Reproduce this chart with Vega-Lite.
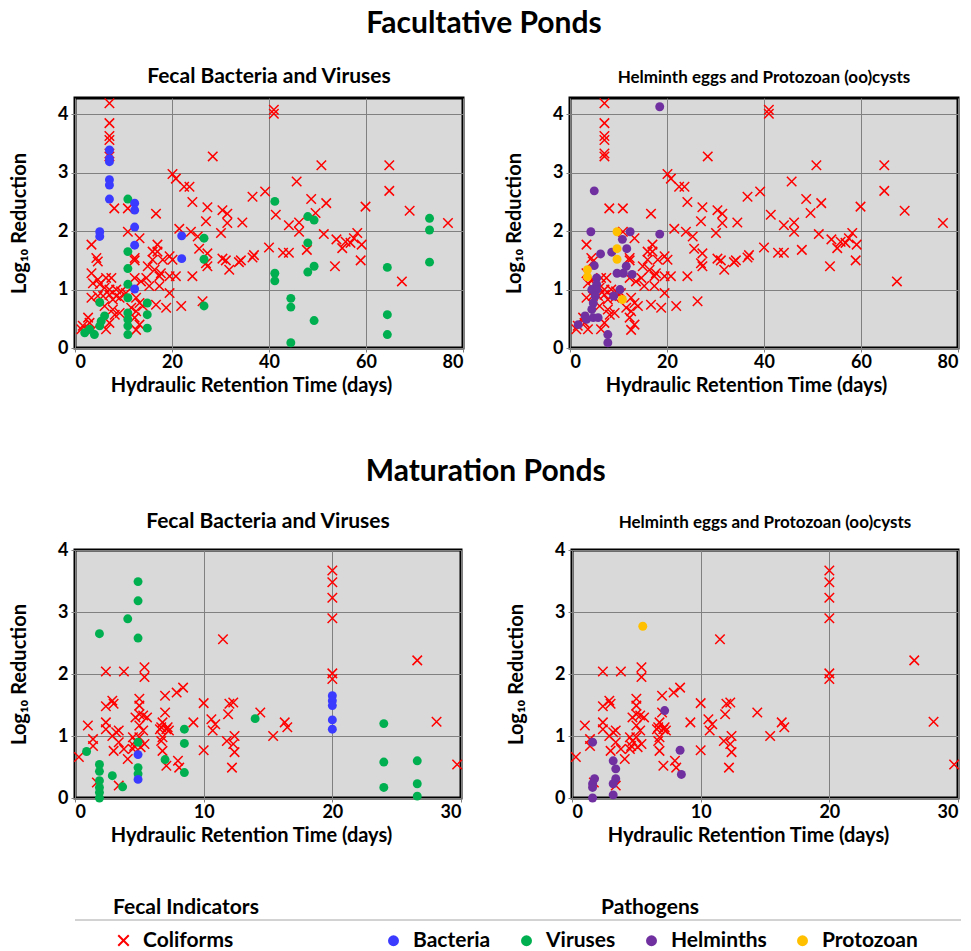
{
  "$schema": "https://vega.github.io/schema/vega-lite/v6.json",
  "background": "white",
  "padding": {"left": 8, "top": 9, "right": 5, "bottom": 0},
  "config": {
    "font": "Lato",
    "view": {"stroke": "black", "strokeWidth": 3, "fill": "#d9d9d9"},
    "axis": {"labelFontWeight": "bold", "labelFontSize": 18, "labelColor": "black", "titleFontSize": 20, "titleFontWeight": "bold", "titleColor": "black", "gridColor": "#808080", "gridWidth": 1, "domain": false, "tickColor": "#808080", "tickSize": 4, "labelPadding": 1},
    "axisY": {"titlePadding": 28, "labelPadding": 3},
    "axisX": {"titlePadding": 4, "titleX": 176},
    "title": {"fontWeight": "bold", "color": "black"},
    "legend": {"labelFontSize": 21, "labelFontWeight": "bold", "labelColor": "black", "titleFontSize": 21, "titleFontWeight": "bold", "titleColor": "black", "padding": 0, "titlePadding": 12}
  },
  "datasets": {
    "facColi": [
      {"t":7.1,"r":4.19},{"t":7.1,"r":3.85},{"t":7.1,"r":3.63},{"t":7.1,"r":3.56},{"t":7.1,"r":3.33},{"t":7.1,"r":3.28},
      {"t":28.4,"r":3.28},{"t":20.1,"r":2.98},{"t":20.8,"r":2.9},{"t":22.5,"r":2.76},{"t":23.6,"r":2.76},
      {"t":41,"r":4.08},{"t":41,"r":4.01},{"t":36.6,"r":2.59},{"t":39.2,"r":2.68},{"t":45.7,"r":2.85},{"t":41.4,"r":2.28},
      {"t":24.2,"r":2.5},{"t":27.3,"r":2.41},{"t":27,"r":2.17},{"t":30.4,"r":2.36},{"t":31.4,"r":2.3},{"t":31.4,"r":2.14},{"t":34.5,"r":2.15},{"t":30.1,"r":1.97},{"t":44.1,"r":2.1},
      {"t":8.1,"r":2.39},{"t":10.9,"r":2.39},{"t":16.7,"r":2.3},{"t":21.5,"r":2.04},{"t":23.9,"r":1.99},{"t":25.3,"r":1.91},{"t":10.9,"r":1.99},{"t":13.3,"r":1.88},{"t":3.4,"r":1.77},
      {"t":25.6,"r":1.7},{"t":27.3,"r":1.62},{"t":40,"r":1.72},{"t":36.9,"r":1.59},{"t":36.6,"r":1.55},{"t":30.4,"r":1.53},{"t":31.1,"r":1.5},{"t":34.2,"r":1.5},{"t":33.8,"r":1.47},{"t":31.8,"r":1.34},
      {"t":42.9,"r":1.63},{"t":44.1,"r":1.63},{"t":27,"r":1.45},{"t":27.3,"r":1.4},{"t":24.2,"r":1.23},{"t":26.3,"r":0.8},{"t":21.9,"r":0.72},
      {"t":17,"r":1.77},{"t":17,"r":1.65},{"t":16,"r":1.65},{"t":12.3,"r":1.54},{"t":12.3,"r":1.5},{"t":4.4,"r":1.54},{"t":4.7,"r":1.48},{"t":16,"r":1.51},{"t":18.1,"r":1.51},{"t":19.5,"r":1.57},{"t":20.1,"r":1.51},
      {"t":15,"r":1.4},{"t":16.4,"r":1.34},{"t":17.7,"r":1.28},{"t":17.4,"r":1.23},{"t":20.8,"r":1.23},{"t":19.5,"r":1.23},{"t":14.7,"r":1.2},{"t":12.3,"r":1.2},
      {"t":3.4,"r":1.28},{"t":4.7,"r":1.17},{"t":6.4,"r":1.2},{"t":7.5,"r":1.2},{"t":3.7,"r":1.11},{"t":5.1,"r":1.09},{"t":6.1,"r":1.03},{"t":7.1,"r":1.0},{"t":8.5,"r":1.0},{"t":9.5,"r":0.97},{"t":10.5,"r":0.94},
      {"t":13.6,"r":1.14},{"t":15.3,"r":1.06},{"t":17.4,"r":1.06},{"t":19.5,"r":0.94},
      {"t":3.4,"r":0.86},{"t":4.7,"r":0.89},{"t":5.8,"r":0.89},{"t":7.1,"r":0.91},{"t":8.5,"r":0.89},{"t":7.8,"r":0.83},{"t":9.2,"r":0.86},{"t":12.6,"r":0.86},{"t":13.3,"r":0.77},{"t":14,"r":0.72},{"t":16.7,"r":0.74},{"t":18.8,"r":0.69},{"t":11.6,"r":0.69},{"t":12.6,"r":0.63},
      {"t":6.1,"r":0.72},{"t":7.8,"r":0.66},{"t":8.2,"r":0.57},{"t":9.2,"r":0.6},{"t":12.3,"r":0.52},{"t":13.3,"r":0.4},{"t":12.6,"r":0.31},
      {"t":2.7,"r":0.52},{"t":1.6,"r":0.38},{"t":1.3,"r":0.32},{"t":3,"r":0.43},{"t":3.7,"r":0.32},{"t":7.1,"r":0.43},{"t":6.4,"r":0.32},
      {"t":50.8,"r":3.13},{"t":64.8,"r":3.13},{"t":64.8,"r":2.69},{"t":48.7,"r":2.55},{"t":51.8,"r":2.48},{"t":59.9,"r":2.42},{"t":49.6,"r":2.31},{"t":69,"r":2.35},{"t":76.9,"r":2.14},
      {"t":46.2,"r":2.15},{"t":46.2,"r":1.99},{"t":51.3,"r":1.95},{"t":53.9,"r":1.86},{"t":55.1,"r":1.71},{"t":55.8,"r":1.82},{"t":56.8,"r":1.8},{"t":57.5,"r":1.88},{"t":58.2,"r":1.97},{"t":59.1,"r":1.77},{"t":58.9,"r":1.5},{"t":53.6,"r":1.4},{"t":47.8,"r":1.68},{"t":67.4,"r":1.14}
    ],
    "facPath1": [
      {"t":41.2,"r":2.51,"type":"Viruses"},{"t":48,"r":2.25,"type":"Viruses"},{"t":49.3,"r":2.19,"type":"Viruses"},{"t":48,"r":1.8,"type":"Viruses"},{"t":49.3,"r":1.4,"type":"Viruses"},{"t":48,"r":1.3,"type":"Viruses"},{"t":41.2,"r":1.28,"type":"Viruses"},{"t":41.2,"r":1.15,"type":"Viruses"},{"t":44.5,"r":0.85,"type":"Viruses"},{"t":44.5,"r":0.7,"type":"Viruses"},{"t":49.3,"r":0.47,"type":"Viruses"},{"t":44.5,"r":0.09,"type":"Viruses"},{"t":64.4,"r":1.38,"type":"Viruses"},{"t":64.4,"r":0.57,"type":"Viruses"},{"t":64.4,"r":0.23,"type":"Viruses"},{"t":73.1,"r":2.22,"type":"Viruses"},{"t":73.1,"r":2.02,"type":"Viruses"},{"t":73.1,"r":1.47,"type":"Viruses"},
      {"t":10.9,"r":2.55,"type":"Viruses"},{"t":10.9,"r":1.65,"type":"Viruses"},{"t":10.9,"r":1.36,"type":"Viruses"},{"t":10.9,"r":1.09,"type":"Viruses"},{"t":10.9,"r":0.86,"type":"Viruses"},{"t":10.9,"r":0.6,"type":"Viruses"},{"t":10.9,"r":0.49,"type":"Viruses"},{"t":10.9,"r":0.38,"type":"Viruses"},{"t":10.9,"r":0.23,"type":"Viruses"},{"t":14.9,"r":0.77,"type":"Viruses"},{"t":14.9,"r":0.57,"type":"Viruses"},{"t":14.9,"r":0.34,"type":"Viruses"},{"t":26.6,"r":1.88,"type":"Viruses"},{"t":26.6,"r":1.52,"type":"Viruses"},{"t":26.6,"r":0.72,"type":"Viruses"},{"t":5.1,"r":0.78,"type":"Viruses"},{"t":6.1,"r":0.55,"type":"Viruses"},{"t":5.4,"r":0.46,"type":"Viruses"},{"t":5.1,"r":0.38,"type":"Viruses"},{"t":2,"r":0.26,"type":"Viruses"},{"t":3,"r":0.32,"type":"Viruses"},{"t":4,"r":0.23,"type":"Viruses"},
      {"t":7.1,"r":3.39,"type":"Bacteria"},{"t":7.1,"r":3.24,"type":"Bacteria"},{"t":7.1,"r":3.19,"type":"Bacteria"},{"t":7.1,"r":2.88,"type":"Bacteria"},{"t":7.1,"r":2.79,"type":"Bacteria"},{"t":7.1,"r":2.55,"type":"Bacteria"},{"t":5.1,"r":1.99,"type":"Bacteria"},{"t":5.1,"r":1.91,"type":"Bacteria"},{"t":12.3,"r":2.48,"type":"Bacteria"},{"t":12.3,"r":2.36,"type":"Bacteria"},{"t":12.3,"r":2.07,"type":"Bacteria"},{"t":12.3,"r":1.76,"type":"Bacteria"},{"t":12.3,"r":1.01,"type":"Bacteria"},{"t":22,"r":1.92,"type":"Bacteria"},{"t":22,"r":1.53,"type":"Bacteria"}
    ],
    "facPath2": [
      {"t":18.5,"r":4.13,"type":"Helminths"},{"t":5,"r":2.69,"type":"Helminths"},{"t":4.3,"r":1.99,"type":"Helminths"},{"t":12.4,"r":1.99,"type":"Helminths"},{"t":18.5,"r":1.95,"type":"Helminths"},{"t":10.8,"r":1.86,"type":"Helminths"},{"t":11.7,"r":1.7,"type":"Helminths"},{"t":6.3,"r":1.61,"type":"Helminths"},{"t":8.6,"r":1.64,"type":"Helminths"},{"t":5,"r":1.41,"type":"Helminths"},{"t":11.6,"r":1.4,"type":"Helminths"},{"t":9.7,"r":1.28,"type":"Helminths"},{"t":11,"r":1.28,"type":"Helminths"},{"t":12.8,"r":1.26,"type":"Helminths"},{"t":5.5,"r":1.2,"type":"Helminths"},{"t":5.5,"r":1.09,"type":"Helminths"},{"t":4.5,"r":1.0,"type":"Helminths"},{"t":5.5,"r":1.0,"type":"Helminths"},{"t":10.3,"r":1.0,"type":"Helminths"},{"t":9,"r":0.89,"type":"Helminths"},{"t":5.2,"r":0.89,"type":"Helminths"},{"t":4.8,"r":0.77,"type":"Helminths"},{"t":4.5,"r":0.66,"type":"Helminths"},{"t":3.1,"r":0.55,"type":"Helminths"},{"t":4.8,"r":0.52,"type":"Helminths"},{"t":5.8,"r":0.52,"type":"Helminths"},{"t":1.7,"r":0.4,"type":"Helminths"},{"t":7.8,"r":0.23,"type":"Helminths"},{"t":7.8,"r":0.09,"type":"Helminths"},{"t":3.4,"r":0.49,"type":"Helminths"},
      {"t":9.7,"r":1.99,"type":"Protozoan"},{"t":9.7,"r":1.7,"type":"Protozoan"},{"t":9.7,"r":1.52,"type":"Protozoan"},{"t":3.6,"r":1.34,"type":"Protozoan"},{"t":3.6,"r":1.22,"type":"Protozoan"},{"t":10.8,"r":0.83,"type":"Protozoan"}
    ],
    "matColi": [
      {"t":11.5,"r":2.56},{"t":2.4,"r":2.04},{"t":3.8,"r":2.04},{"t":5.4,"r":2.11},{"t":5.4,"r":1.95},{"t":7.9,"r":1.7},{"t":8.4,"r":1.78},{"t":2.4,"r":1.48},{"t":2.9,"r":1.57},{"t":3.0,"r":1.52},{"t":5,"r":1.6},{"t":5,"r":1.49},{"t":5,"r":1.35},{"t":4.7,"r":1.3},{"t":5.3,"r":1.33},{"t":5.6,"r":1.3},{"t":7,"r":1.65},{"t":7,"r":1.38},{"t":6.8,"r":1.22},{"t":7.1,"r":1.11},{"t":6.6,"r":1.11},{"t":9.2,"r":1.22},{"t":10,"r":1.53},{"t":10.6,"r":1.27},{"t":10.9,"r":1.19},{"t":10.7,"r":1.09},{"t":12,"r":1.52},{"t":12.3,"r":1.54},{"t":11.9,"r":1.35},{"t":12.4,"r":1.0},{"t":11.8,"r":0.92},{"t":12.3,"r":0.87},{"t":12.4,"r":0.74},{"t":12.2,"r":0.49},{"t":14.4,"r":1.38},{"t":15.4,"r":1.0},{"t":16.3,"r":1.22},{"t":16.5,"r":1.14},{"t":10,"r":0.77},{"t":1,"r":1.17},{"t":2.4,"r":1.22},{"t":2.4,"r":1.11},{"t":1.4,"r":0.95},{"t":1.4,"r":0.84},{"t":0.3,"r":0.66},{"t":3.2,"r":1.06},{"t":3.4,"r":1.09},{"t":2.9,"r":1.0},{"t":3.4,"r":0.9},{"t":3,"r":0.76},{"t":3.8,"r":0.79},{"t":4.1,"r":0.63},{"t":4.5,"r":0.98},{"t":4.7,"r":0.92},{"t":5,"r":0.98},{"t":5.3,"r":1.09},{"t":4.6,"r":0.84},{"t":5.1,"r":0.82},{"t":5.4,"r":0.87},{"t":4.5,"r":0.79},{"t":5,"r":1.17},{"t":6.7,"r":1.14},{"t":7.2,"r":1.14},{"t":6.7,"r":0.92},{"t":6.8,"r":0.76},{"t":7.1,"r":0.52},{"t":8,"r":0.6},{"t":8.1,"r":0.49},{"t":6.8,"r":0.98},{"t":1.7,"r":0.25},{"t":3.4,"r":0.2},{"t":7.3,"r":1.09},
      {"t":20,"r":3.67},{"t":20,"r":3.48},{"t":20,"r":3.23},{"t":20,"r":2.9},{"t":20,"r":2.01},{"t":20,"r":1.92},{"t":26.6,"r":2.22},{"t":28.1,"r":1.23},{"t":29.7,"r":0.54}
    ],
    "matPath1": [
      {"t":24,"r":1.2,"type":"Viruses"},{"t":24,"r":0.58,"type":"Viruses"},{"t":24,"r":0.17,"type":"Viruses"},{"t":26.6,"r":0.6,"type":"Viruses"},{"t":26.6,"r":0.23,"type":"Viruses"},{"t":26.6,"r":0.03,"type":"Viruses"},{"t":4.9,"r":3.49,"type":"Viruses"},{"t":4.9,"r":3.18,"type":"Viruses"},{"t":4.1,"r":2.89,"type":"Viruses"},{"t":1.9,"r":2.65,"type":"Viruses"},{"t":4.9,"r":2.58,"type":"Viruses"},{"t":4.9,"r":0.9,"type":"Viruses"},{"t":4.9,"r":0.49,"type":"Viruses"},{"t":4.9,"r":0.39,"type":"Viruses"},{"t":8.5,"r":1.11,"type":"Viruses"},{"t":8.5,"r":0.88,"type":"Viruses"},{"t":8.5,"r":0.41,"type":"Viruses"},{"t":7,"r":0.62,"type":"Viruses"},{"t":14,"r":1.28,"type":"Viruses"},{"t":0.9,"r":0.75,"type":"Viruses"},{"t":1.9,"r":0.54,"type":"Viruses"},{"t":1.9,"r":0.43,"type":"Viruses"},{"t":1.9,"r":0.28,"type":"Viruses"},{"t":1.9,"r":0.17,"type":"Viruses"},{"t":1.9,"r":0.09,"type":"Viruses"},{"t":1.9,"r":0.0,"type":"Viruses"},{"t":2.9,"r":0.36,"type":"Viruses"},{"t":3.7,"r":0.18,"type":"Viruses"},
      {"t":20,"r":1.65,"type":"Bacteria"},{"t":20,"r":1.57,"type":"Bacteria"},{"t":20,"r":1.49,"type":"Bacteria"},{"t":20,"r":1.26,"type":"Bacteria"},{"t":20,"r":1.11,"type":"Bacteria"},{"t":4.9,"r":0.7,"type":"Bacteria"},{"t":4.9,"r":0.3,"type":"Bacteria"}
    ],
    "matPath2": [
      {"t":7.2,"r":1.41,"type":"Helminths"},{"t":1.6,"r":0.9,"type":"Helminths"},{"t":8.4,"r":0.77,"type":"Helminths"},{"t":8.5,"r":0.38,"type":"Helminths"},{"t":3.2,"r":0.6,"type":"Helminths"},{"t":3.4,"r":0.47,"type":"Helminths"},{"t":3.4,"r":0.31,"type":"Helminths"},{"t":3.2,"r":0.23,"type":"Helminths"},{"t":3.2,"r":0.05,"type":"Helminths"},{"t":1.75,"r":0.31,"type":"Helminths"},{"t":1.6,"r":0.23,"type":"Helminths"},{"t":1.6,"r":0.17,"type":"Helminths"},{"t":1.6,"r":0.0,"type":"Helminths"},
      {"t":5.5,"r":2.77,"type":"Protozoan"}
    ],
    "rule": [{"v": 0}]
  },
  "vconcat": [
    {
      "title": {"text": "Facultative Ponds", "fontSize": 30, "anchor": "middle", "offset": 25},
      "spacing": 38,
      "hconcat": [
        {
          "title": {"text": "Fecal Bacteria and Viruses", "fontSize": 21, "anchor": "middle", "frame": "group", "offset": 9},
          "width": 388, "height": 250,
          "encoding": {
            "x": {"field": "t", "type": "quantitative", "scale": {"domain": [0, 80], "nice": false}, "axis": {"title": "Hydraulic Retention Time (days)", "values": [0, 20, 40, 60, 80]}},
            "y": {"field": "r", "type": "quantitative", "scale": {"domain": [0, 4.28], "nice": false}, "axis": {"title": "Log₁₀ Reduction", "values": [0, 1, 2, 3, 4]}}
          },
          "layer": [
            {"data": {"name": "facColi"}, "transform": [{"calculate": "'Coliforms'", "as": "ind"}], "mark": {"type": "point", "filled": false, "color": "#ff0000", "strokeWidth": 1.5, "size": 90, "opacity": 1},
             "encoding": {"shape": {"field": "ind", "type": "nominal", "scale": {"domain": ["Coliforms"], "range": ["M-1,-1L1,1M-1,1L1,-1"]}, "legend": {"title": "Fecal Indicators", "orient": "none", "legendX": 38, "legendY": 799, "direction": "horizontal", "symbolStrokeColor": "#ff0000", "symbolStrokeWidth": 2, "symbolSize": 110, "titleAnchor": "start", "labelOffset": 9}}}},
            {"data": {"name": "facPath1"}, "mark": {"type": "circle", "size": 80, "opacity": 1},
             "encoding": {"color": {"field": "type", "type": "nominal", "scale": {"domain": ["Bacteria", "Viruses", "Helminths", "Protozoan"], "range": ["#3b3bff", "#00b050", "#7030a0", "#ffc000"]}, "legend": {"title": "Pathogens", "orient": "none", "legendX": 308, "legendY": 799, "direction": "horizontal", "titleAnchor": "middle", "symbolType": "circle", "symbolSize": 120, "columnPadding": 25, "labelOffset": 9}}}}
          ]
        },
        {
          "title": {"text": "Helminth eggs and Protozoan (oo)cysts", "fontSize": 17, "anchor": "middle", "frame": "group", "offset": 9},
          "width": 388, "height": 250,
          "encoding": {
            "x": {"field": "t", "type": "quantitative", "scale": {"domain": [0, 80], "nice": false}, "axis": {"title": "Hydraulic Retention Time (days)", "values": [0, 20, 40, 60, 80]}},
            "y": {"field": "r", "type": "quantitative", "scale": {"domain": [0, 4.28], "nice": false}, "axis": {"title": "Log₁₀ Reduction", "values": [0, 1, 2, 3, 4]}}
          },
          "layer": [
            {"data": {"name": "facColi"}, "transform": [{"calculate": "'Coliforms'", "as": "ind"}], "mark": {"type": "point", "filled": false, "color": "#ff0000", "strokeWidth": 1.5, "size": 90, "opacity": 1},
             "encoding": {"shape": {"field": "ind", "type": "nominal", "scale": {"domain": ["Coliforms"], "range": ["M-1,-1L1,1M-1,1L1,-1"]}, "legend": {"title": "Fecal Indicators", "orient": "none", "legendX": 38, "legendY": 799, "direction": "horizontal", "symbolStrokeColor": "#ff0000", "symbolStrokeWidth": 2, "symbolSize": 110, "titleAnchor": "start", "labelOffset": 9}}}},
            {"data": {"name": "facPath2"}, "mark": {"type": "circle", "size": 80, "opacity": 1},
             "encoding": {"color": {"field": "type", "type": "nominal", "scale": {"domain": ["Bacteria", "Viruses", "Helminths", "Protozoan"], "range": ["#3b3bff", "#00b050", "#7030a0", "#ffc000"]}, "legend": {"title": "Pathogens", "orient": "none", "legendX": 308, "legendY": 799, "direction": "horizontal", "titleAnchor": "middle", "symbolType": "circle", "symbolSize": 120, "columnPadding": 25, "labelOffset": 9}}}}
          ]
        }
      ]
    },
    {
      "title": {"text": "Maturation Ponds", "fontSize": 30, "anchor": "middle", "offset": 23},
      "spacing": 38,
      "hconcat": [
        {
          "title": {"text": "Fecal Bacteria and Viruses", "fontSize": 21, "anchor": "middle", "frame": "group", "offset": 9},
          "width": 386, "height": 248,
          "encoding": {
            "x": {"field": "t", "type": "quantitative", "scale": {"domain": [0, 30], "nice": false}, "axis": {"title": "Hydraulic Retention Time (days)", "values": [0, 10, 20, 30]}},
            "y": {"field": "r", "type": "quantitative", "scale": {"domain": [0, 4], "nice": false}, "axis": {"title": "Log₁₀ Reduction", "values": [0, 1, 2, 3, 4]}}
          },
          "layer": [
            {"data": {"name": "matColi"}, "transform": [{"calculate": "'Coliforms'", "as": "ind"}], "mark": {"type": "point", "filled": false, "color": "#ff0000", "strokeWidth": 1.5, "size": 90, "opacity": 1},
             "encoding": {"shape": {"field": "ind", "type": "nominal", "scale": {"domain": ["Coliforms"], "range": ["M-1,-1L1,1M-1,1L1,-1"]}, "legend": {"title": "Fecal Indicators", "orient": "none", "legendX": 38, "legendY": 799, "direction": "horizontal", "symbolStrokeColor": "#ff0000", "symbolStrokeWidth": 2, "symbolSize": 110, "titleAnchor": "start", "labelOffset": 9}}}},
            {"data": {"name": "matPath1"}, "mark": {"type": "circle", "size": 80, "opacity": 1},
             "encoding": {"color": {"field": "type", "type": "nominal", "scale": {"domain": ["Bacteria", "Viruses", "Helminths", "Protozoan"], "range": ["#3b3bff", "#00b050", "#7030a0", "#ffc000"]}, "legend": {"title": "Pathogens", "orient": "none", "legendX": 308, "legendY": 799, "direction": "horizontal", "titleAnchor": "middle", "symbolType": "circle", "symbolSize": 120, "columnPadding": 25, "labelOffset": 9}}}}
          ]
        },
        {
          "title": {"text": "Helminth eggs and Protozoan (oo)cysts", "fontSize": 17, "anchor": "middle", "frame": "group", "offset": 9},
          "width": 386, "height": 248,
          "encoding": {
            "x": {"field": "t", "type": "quantitative", "scale": {"domain": [0, 30], "nice": false}, "axis": {"title": "Hydraulic Retention Time (days)", "values": [0, 10, 20, 30]}},
            "y": {"field": "r", "type": "quantitative", "scale": {"domain": [0, 4], "nice": false}, "axis": {"title": "Log₁₀ Reduction", "values": [0, 1, 2, 3, 4]}}
          },
          "layer": [
            {"data": {"name": "matColi"}, "transform": [{"calculate": "'Coliforms'", "as": "ind"}], "mark": {"type": "point", "filled": false, "color": "#ff0000", "strokeWidth": 1.5, "size": 90, "opacity": 1},
             "encoding": {"shape": {"field": "ind", "type": "nominal", "scale": {"domain": ["Coliforms"], "range": ["M-1,-1L1,1M-1,1L1,-1"]}, "legend": {"title": "Fecal Indicators", "orient": "none", "legendX": 38, "legendY": 799, "direction": "horizontal", "symbolStrokeColor": "#ff0000", "symbolStrokeWidth": 2, "symbolSize": 110, "titleAnchor": "start", "labelOffset": 9}}}},
            {"data": {"name": "matPath2"}, "mark": {"type": "circle", "size": 80, "opacity": 1},
             "encoding": {"color": {"field": "type", "type": "nominal", "scale": {"domain": ["Bacteria", "Viruses", "Helminths", "Protozoan"], "range": ["#3b3bff", "#00b050", "#7030a0", "#ffc000"]}, "legend": {"title": "Pathogens", "orient": "none", "legendX": 308, "legendY": 799, "direction": "horizontal", "titleAnchor": "middle", "symbolType": "circle", "symbolSize": 120, "columnPadding": 25, "labelOffset": 9}}}}
          ]
        }
      ]
    },
    {
      "width": 886, "height": 14,
      "view": {"stroke": null, "fill": null},
      "data": {"name": "rule"},
      "mark": {"type": "rule", "color": "#a6a6a6", "strokeWidth": 1},
      "encoding": {"y": {"field": "v", "type": "quantitative", "axis": null, "scale": {"domain": [0, 1]}}}
    }
  ],
  "spacing": 59
}
